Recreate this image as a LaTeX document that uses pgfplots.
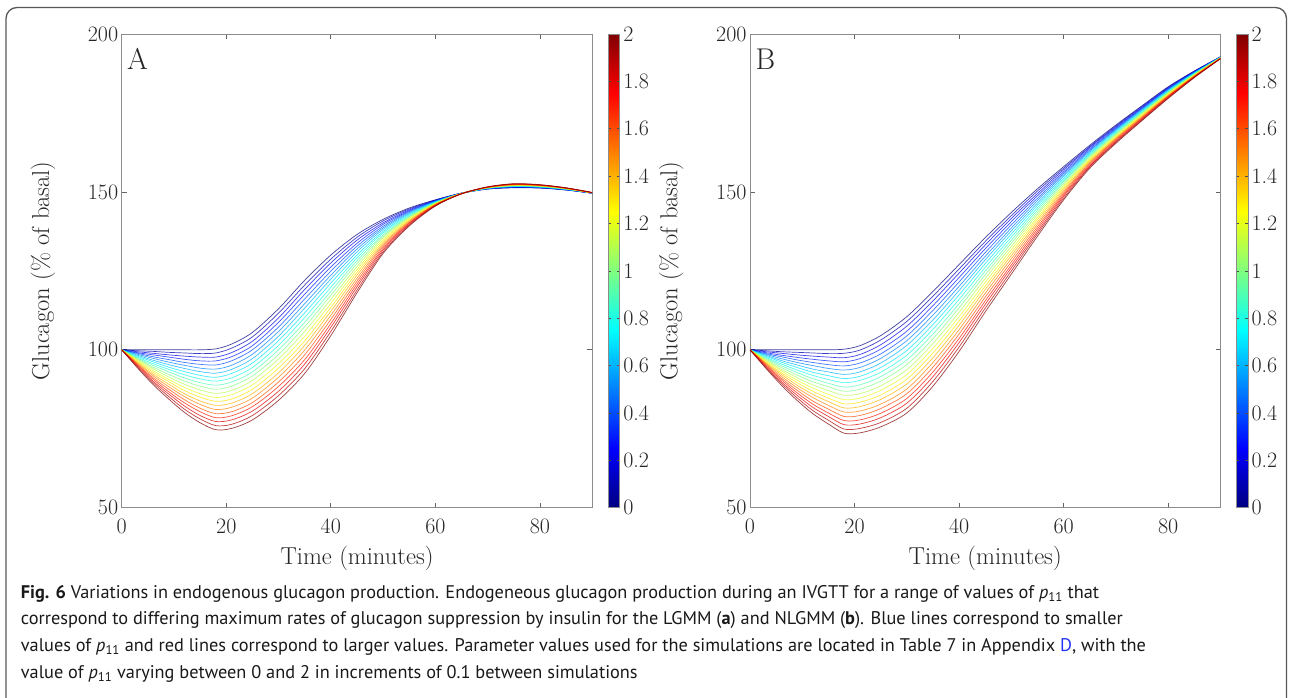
\documentclass[border=0pt]{standalone}
\usepackage{fontspec}
\usepackage{pgfplots}
\usepackage{pgfplotstable}
\pgfplotsset{compat=1.18}
\newfontfamily\capfont{PT Sans}

% jet colours for p11 = 0, 0.1, ..., 2
\definecolor{c1}{rgb}{0,0,0.5}
\definecolor{c2}{rgb}{0,0,0.7}
\definecolor{c3}{rgb}{0,0,0.9}
\definecolor{c4}{rgb}{0,0.1,1}
\definecolor{c5}{rgb}{0,0.3,1}
\definecolor{c6}{rgb}{0,0.5,1}
\definecolor{c7}{rgb}{0,0.7,1}
\definecolor{c8}{rgb}{0,0.9,1}
\definecolor{c9}{rgb}{0.1,1,0.9}
\definecolor{c10}{rgb}{0.3,1,0.7}
\definecolor{c11}{rgb}{0.5,1,0.5}
\definecolor{c12}{rgb}{0.7,1,0.3}
\definecolor{c13}{rgb}{0.9,1,0.1}
\definecolor{c14}{rgb}{1,0.9,0}
\definecolor{c15}{rgb}{1,0.7,0}
\definecolor{c16}{rgb}{1,0.5,0}
\definecolor{c17}{rgb}{1,0.3,0}
\definecolor{c18}{rgb}{1,0.1,0}
\definecolor{c19}{rgb}{0.9,0,0}
\definecolor{c20}{rgb}{0.7,0,0}
\definecolor{c21}{rgb}{0.5,0,0}
\definecolor{linkblue}{rgb}{0.15,0.2,0.95}
\definecolor{axgray}{gray}{0.55}
\definecolor{txt}{gray}{0.15}

% panel A (LGMM): time, then one column per value of p11
\pgfplotstableread{
t k0 k1 k2 k3 k4 k5 k6 k7 k8 k9 k10 k11 k12 k13 k14 k15 k16 k17 k18 k19 k20
0 100 100 100 100 100 100 100 100 100 100 100 100 100 100 100 100 100 100 100 100 100
3 100 99.7 99.4 99.1 98.9 98.6 98.3 98.0 97.7 97.4 97.2 96.9 96.6 96.3 96.0 95.7 95.4 95.2 94.9 94.6 94.3
6 100 99.5 98.9 98.4 97.8 97.3 96.7 96.2 95.6 95.1 94.5 94.0 93.4 92.9 92.3 91.8 91.2 90.7 90.1 89.6 89.0
9 100 99.2 98.4 97.7 96.9 96.1 95.3 94.5 93.8 93.0 92.2 91.4 90.6 89.9 89.1 88.3 87.5 86.7 86.0 85.2 84.4
12 100 99.0 98.0 97.0 96.0 95.1 94.1 93.1 92.1 91.1 90.1 89.1 88.1 87.1 86.1 85.2 84.2 83.2 82.2 81.2 80.2
15 100 98.8 97.7 96.5 95.4 94.2 93.1 91.9 90.8 89.6 88.5 87.3 86.1 85.0 83.8 82.7 81.5 80.4 79.2 78.1 76.9
18 100.3 99.0 97.7 96.5 95.2 93.9 92.6 91.3 90.1 88.8 87.5 86.2 84.9 83.7 82.4 81.1 79.8 78.5 77.3 76.0 74.7
21 101.8 100.5 99.1 97.8 96.5 95.1 93.8 92.5 91.1 89.8 88.5 87.1 85.8 84.4 83.1 81.8 80.4 79.1 77.8 76.4 75.1
25 105.5 104.1 102.7 101.3 100.0 98.6 97.2 95.8 94.4 93.0 91.7 90.3 88.9 87.5 86.1 84.7 83.3 82.0 80.6 79.2 77.8
30 113.0 111.6 110.1 108.7 107.2 105.8 104.3 102.9 101.4 100.0 98.5 97.1 95.6 94.2 92.7 91.3 89.8 88.4 86.9 85.5 84.0
35 122.0 120.5 119.1 117.6 116.1 114.6 113.2 111.7 110.2 108.7 107.3 105.8 104.3 102.8 101.4 99.9 98.4 96.9 95.5 94.0 92.5
40 130.0 128.7 127.5 126.2 124.9 123.6 122.4 121.1 119.8 118.5 117.3 116.0 114.7 113.4 112.2 110.9 109.6 108.3 107.1 105.8 104.5
45 136.5 135.6 134.7 133.7 132.8 131.9 131.0 130.0 129.1 128.2 127.3 126.3 125.4 124.5 123.6 122.6 121.7 120.8 119.9 118.9 118.0
50 141.3 140.8 140.2 139.7 139.1 138.6 138.1 137.5 137.0 136.4 135.9 135.4 134.8 134.3 133.7 133.2 132.7 132.1 131.6 131.0 130.5
55 144.9 144.6 144.3 144.0 143.8 143.5 143.2 142.9 142.6 142.3 142.1 141.8 141.5 141.2 140.9 140.6 140.3 140.1 139.8 139.5 139.2
60 147.5 147.4 147.3 147.2 147.1 147.0 146.9 146.8 146.7 146.6 146.5 146.4 146.3 146.2 146.1 146.0 145.9 145.8 145.7 145.6 145.5
65 149.6 149.6 149.6 149.6 149.6 149.5 149.5 149.5 149.5 149.5 149.5 149.5 149.5 149.5 149.5 149.5 149.4 149.4 149.4 149.4 149.4
70 150.9 150.9 151.0 151.0 151.0 151.1 151.1 151.1 151.2 151.2 151.3 151.3 151.3 151.4 151.4 151.4 151.5 151.5 151.5 151.6 151.6
75 151.3 151.4 151.4 151.5 151.6 151.6 151.7 151.8 151.8 151.9 152.0 152.0 152.1 152.1 152.2 152.3 152.3 152.4 152.5 152.5 152.6
80 151.2 151.3 151.3 151.4 151.4 151.5 151.5 151.6 151.6 151.7 151.8 151.8 151.9 151.9 152.0 152.0 152.1 152.1 152.2 152.2 152.3
85 150.6 150.6 150.7 150.7 150.7 150.8 150.8 150.8 150.9 150.9 151.0 151.0 151.0 151.1 151.1 151.1 151.2 151.2 151.2 151.3 151.3
90 149.6 149.6 149.6 149.6 149.6 149.7 149.7 149.7 149.7 149.7 149.7 149.7 149.7 149.7 149.7 149.7 149.8 149.8 149.8 149.8 149.8
}\dataA

% panel B (NLGMM)
\pgfplotstableread{
t k0 k1 k2 k3 k4 k5 k6 k7 k8 k9 k10 k11 k12 k13 k14 k15 k16 k17 k18 k19 k20
0 100 100 100 100 100 100 100 100 100 100 100 100 100 100 100 100 100 100 100 100 100
3 100 99.7 99.4 99.1 98.8 98.6 98.3 98.0 97.7 97.4 97.1 96.8 96.5 96.2 95.9 95.7 95.4 95.1 94.8 94.5 94.2
6 100 99.4 98.9 98.3 97.8 97.2 96.6 96.1 95.5 95.0 94.4 93.8 93.3 92.7 92.2 91.6 91.0 90.5 89.9 89.4 88.8
9 100 99.2 98.4 97.6 96.8 96.0 95.2 94.4 93.6 92.8 92.0 91.2 90.4 89.6 88.8 88.0 87.2 86.4 85.6 84.8 84.0
12 100 99.0 98.0 97.0 96.0 95.0 93.9 92.9 91.9 90.9 89.9 88.9 87.9 86.9 85.9 84.9 83.8 82.8 81.8 80.8 79.8
15 100 98.8 97.7 96.5 95.3 94.1 93.0 91.8 90.6 89.4 88.3 87.1 85.9 84.7 83.6 82.4 81.2 80.0 78.9 77.7 76.5
18 100.2 98.9 97.5 96.2 94.9 93.6 92.2 90.9 89.6 88.2 86.9 85.6 84.2 82.9 81.6 80.3 78.9 77.6 76.3 74.9 73.6
21 101.3 99.9 98.5 97.2 95.8 94.4 93.0 91.6 90.3 88.9 87.5 86.1 84.7 83.4 82.0 80.6 79.2 77.8 76.5 75.1 73.7
25 104.5 103.1 101.6 100.2 98.7 97.3 95.8 94.4 92.9 91.5 90.1 88.6 87.2 85.7 84.3 82.8 81.4 79.9 78.5 77.0 75.6
30 110.5 109.0 107.5 105.9 104.4 102.9 101.4 99.8 98.3 96.8 95.3 93.7 92.2 90.7 89.2 87.6 86.1 84.6 83.1 81.5 80.0
35 118.5 117.0 115.5 114.0 112.5 111.0 109.5 108.0 106.5 105.0 103.5 102.0 100.5 99.0 97.5 96.0 94.5 93.0 91.5 90.0 88.5
40 127.0 125.6 124.3 122.9 121.5 120.1 118.8 117.4 116.0 114.6 113.3 111.9 110.5 109.1 107.8 106.4 105.0 103.6 102.3 100.9 99.5
45 135.5 134.3 133.2 132.0 130.8 129.6 128.5 127.3 126.1 124.9 123.8 122.6 121.4 120.2 119.1 117.9 116.7 115.5 114.4 113.2 112.0
50 143.5 142.5 141.6 140.6 139.6 138.6 137.7 136.7 135.7 134.7 133.8 132.8 131.8 130.8 129.9 128.9 127.9 126.9 126.0 125.0 124.0
55 151.0 150.3 149.5 148.8 148.0 147.3 146.5 145.8 145.0 144.3 143.5 142.8 142.0 141.3 140.5 139.8 139.0 138.3 137.5 136.8 136.0
60 158.0 157.5 157.0 156.4 155.9 155.4 154.9 154.3 153.8 153.3 152.8 152.2 151.7 151.2 150.7 150.1 149.6 149.1 148.6 148.0 147.5
65 164.8 164.4 164.1 163.7 163.3 163.0 162.6 162.2 161.9 161.5 161.2 160.8 160.4 160.1 159.7 159.3 159.0 158.6 158.2 157.9 157.5
70 171.2 170.9 170.6 170.3 170.0 169.8 169.5 169.2 168.9 168.6 168.3 168.0 167.7 167.4 167.1 166.9 166.6 166.3 166.0 165.7 165.4
75 177.3 177.1 176.8 176.6 176.4 176.1 175.9 175.7 175.4 175.2 175.0 174.7 174.5 174.2 174.0 173.8 173.5 173.3 173.1 172.8 172.6
80 183.3 183.1 182.9 182.7 182.6 182.4 182.2 182.0 181.8 181.6 181.5 181.3 181.1 180.9 180.7 180.5 180.3 180.2 180.0 179.8 179.6
85 188.3 188.2 188.1 188.0 187.9 187.8 187.7 187.6 187.5 187.4 187.3 187.1 187.0 186.9 186.8 186.7 186.6 186.5 186.4 186.3 186.2
90 192.8 192.8 192.7 192.7 192.7 192.7 192.6 192.6 192.6 192.5 192.5 192.5 192.4 192.4 192.4 192.4 192.3 192.3 192.2 192.2 192.2
}\dataB

\pgfplotsset{
  /pgf/number format/assume math mode=true,
  panel/.style={
    scale only axis, width=470.5pt, height=473.7pt,
    xmin=0, xmax=90, ymin=50, ymax=200,
    xtick={0,20,40,60,80}, ytick={50,100,150,200},
    tick align=inside, major tick length=5pt,
    axis line style={axgray, line width=0.9pt},
    tick style={axgray!70!black, line width=0.7pt},
    tick label style={font=\fontsize{22}{24}\selectfont, text=txt},
    xticklabel style={yshift=-8pt},
    colormap/jet, point meta min=0, point meta max=2,
    colorbar,
    colorbar style={
      at={(parent axis.north east)}, anchor=north west, xshift=7.3pt,
      width=11.7pt,
      ytick={0,0.2,0.4,0.6,0.8,1,1.2,1.4,1.6,1.8,2},
      tick align=inside, major tick length=3pt,
      tick style={black!70, line width=0.6pt},
      axis line style={axgray, line width=0.8pt},
      yticklabel style={font=\fontsize{22}{24}\selectfont, text=txt},
    },
  },
  curve/.style={line width=0.7pt, opacity=0.75, smooth},
}

\begin{document}
\begin{tikzpicture}
\path[use as bounding box] (0pt,0pt) rectangle (1290pt,-697pt);
\draw[black!65, line width=1.3pt, rounded corners=11pt] (6pt,-7.5pt) rectangle (1286.5pt,-760pt);

\begin{axis}[panel, at={(121.7pt,-507.7pt)}, anchor=south west]
  \pgfplotsinvokeforeach{1,...,21}{
    \addplot[c#1, curve] table[x index=0, y index=#1] {\dataA};
  }
\end{axis}

\begin{axis}[panel, at={(750pt,-507.7pt)}, anchor=south west]
  \pgfplotsinvokeforeach{1,...,21}{
    \addplot[c#1, curve] table[x index=0, y index=#1] {\dataB};
  }
\end{axis}

% panel letters and axis labels
\node[anchor=base west, text=txt, font=\fontsize{30}{30}\selectfont, inner sep=0pt] at (127pt,-69pt) {A};
\node[anchor=base west, text=txt, font=\fontsize{30}{30}\selectfont, inner sep=0pt] at (755.3pt,-69pt) {B};
\node[anchor=base, text=txt, font=\fontsize{24.5}{26}\selectfont, inner sep=0pt] at (357pt,-564pt) {Time (minutes)};
\node[anchor=base, text=txt, font=\fontsize{24.5}{26}\selectfont, inner sep=0pt] at (985.2pt,-564pt) {Time (minutes)};
\node[anchor=base, rotate=90, text=txt, font=\fontsize{24.5}{26}\selectfont, inner sep=0pt] at (49pt,-270.9pt) {Glucagon (\% of basal)};
\node[anchor=base, rotate=90, text=txt, font=\fontsize{24.5}{26}\selectfont, inner sep=0pt] at (677.3pt,-270.9pt) {Glucagon (\% of basal)};

% caption
\begin{scope}[every node/.style={anchor=base west, inner sep=0pt, text=black!90, font=\capfont\fontsize{18.3}{21}\selectfont}]
\node at (20.7pt,-598pt) {\textbf{Fig. 6} Variations in endogenous glucagon production. Endogeneous glucagon production during an IVGTT for a range of values of \textit{p}\textsubscript{11} that};
\node at (20.7pt,-624.7pt) {correspond to differing maximum rates of glucagon suppression by insulin for the LGMM (\textbf{a}) and NLGMM (\textbf{b}). Blue lines correspond to smaller};
\node at (20.7pt,-651.4pt) {values of \textit{p}\textsubscript{11} and red lines correspond to larger values. Parameter values used for the simulations are located in Table 7 in Appendix \textcolor{linkblue}{D}, with the};
\node at (20.7pt,-678pt) {value of \textit{p}\textsubscript{11} varying between 0 and 2 in increments of 0.1 between simulations};
\end{scope}
\end{tikzpicture}
\end{document}
